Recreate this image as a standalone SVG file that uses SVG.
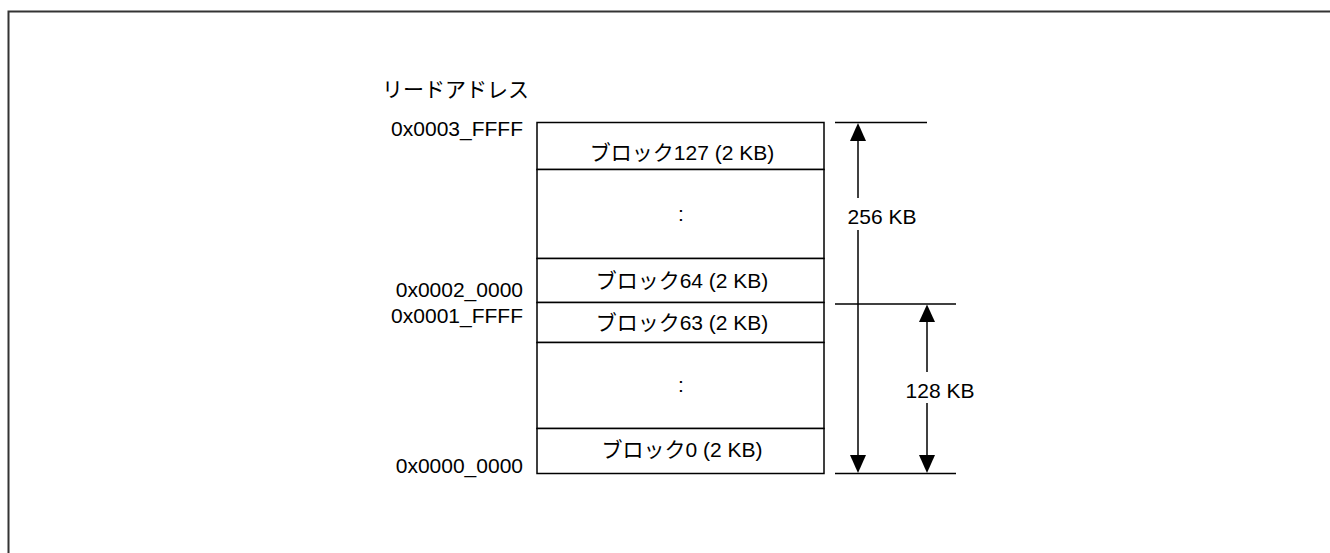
<svg xmlns="http://www.w3.org/2000/svg" width="1330" height="553" viewBox="0 0 1330 553">
<defs>
<style>
.t{font-family:"Liberation Sans","Noto Sans CJK JP",Arial,sans-serif;font-size:21px;fill:#000}
.m{text-anchor:middle}
.e{text-anchor:end}
.b{fill:#fff;stroke:#000;stroke-width:1.5}
.l{stroke:#000;stroke-width:1.5;fill:none}
.ah{fill:#000}
</style>
</defs>
<rect width="1330" height="553" fill="#fff"/>
<path d="M8.5 560 V11.5 H1335" fill="none" stroke="#333" stroke-width="2"/>
<g id="title"><text class="t" x="382" y="97">リードアドレス</text></g>
<g id="addresses">
<text class="t e" x="523" y="136">0x0003_FFFF</text>
<text class="t e" x="523" y="297">0x0002_0000</text>
<text class="t e" x="523" y="323">0x0001_FFFF</text>
<text class="t e" x="523" y="473">0x0000_0000</text>
</g>
<g id="block127"><rect class="b" x="537" y="122.5" width="287" height="47"/><text class="t m" x="682" y="160">ブロック127 (2 KB)</text></g>
<g id="dots-upper"><rect class="b" x="537" y="169.5" width="287" height="89"/><text class="t m" x="681" y="221">:</text></g>
<g id="block64"><rect class="b" x="537" y="258.5" width="287" height="44"/><text class="t m" x="682" y="288">ブロック64 (2 KB)</text></g>
<g id="block63"><rect class="b" x="537" y="302.5" width="287" height="40"/><text class="t m" x="682" y="330">ブロック63 (2 KB)</text></g>
<g id="dots-lower"><rect class="b" x="537" y="342.5" width="287" height="86"/><text class="t m" x="681" y="392">:</text></g>
<g id="block0"><rect class="b" x="537" y="428.5" width="287" height="45"/><text class="t m" x="682" y="457">ブロック0 (2 KB)</text></g>
<g id="connectors">
<line class="l" x1="835" y1="122.5" x2="927" y2="122.5"/>
<line class="l" x1="835" y1="304" x2="956" y2="304"/>
<line class="l" x1="835" y1="473.5" x2="956" y2="473.5"/>
<line class="l" x1="858" y1="140" x2="858" y2="198"/>
<line class="l" x1="858" y1="230" x2="858" y2="456"/>
<polygon class="ah" points="858,123 850,141 866,141"/>
<polygon class="ah" points="858,473 850,455 866,455"/>
<line class="l" x1="927" y1="321" x2="927" y2="372"/>
<line class="l" x1="927" y1="403" x2="927" y2="456"/>
<polygon class="ah" points="927,304.5 919,322 935,322"/>
<polygon class="ah" points="927,473 919,455 935,455"/>
</g>
<g id="label-256"><text class="t m" x="882" y="224">256 KB</text></g>
<g id="label-128"><text class="t m" x="940" y="398">128 KB</text></g>
</svg>
